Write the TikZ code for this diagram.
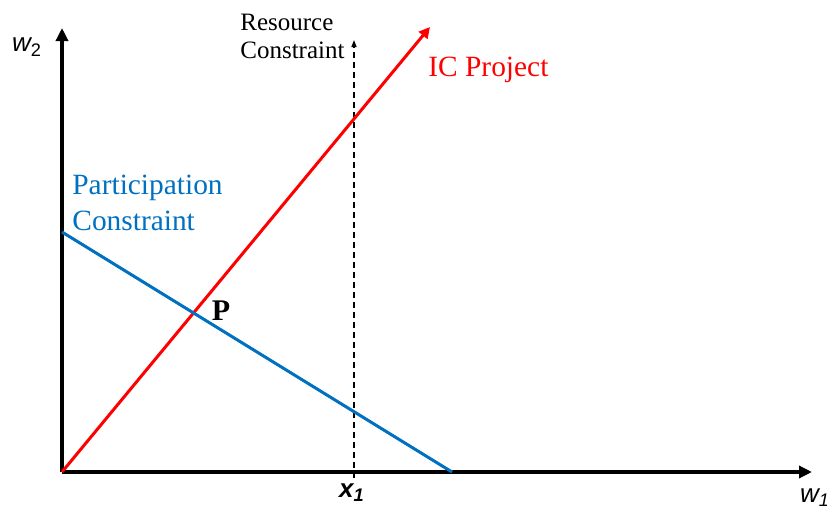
\documentclass[tikz,border=0pt]{standalone}
\usepackage{fontspec}
\setmainfont{Liberation Serif}
\setsansfont{Liberation Sans}
\usepackage{xcolor}
\usetikzlibrary{arrows.meta}

\definecolor{icred}{RGB}{255,0,0}
\definecolor{pcblue}{RGB}{0,112,192}

\begin{document}
\begin{tikzpicture}[x=0.5pt, y=-0.5pt]
	\tikzstyle{axis} = [draw, line width=2pt, -{Triangle[length=6.5pt,width=6pt]}]
	\tikzstyle{curve} = [draw, line width=1.5pt]
	\tikzstyle{label} = [inner sep=0, align=left, font=\fontsize{14.7}{18}\selectfont]
	\tikzstyle{axlabel} = [inner sep=0, font=\fontsize{13}{15}\sffamily\itshape]
	\useasboundingbox (0,0) rectangle (827,514);
	\coordinate (O) at (62,472);
	\coordinate (ytop) at (62,28);
	\coordinate (xend) at (812,472);
	\coordinate (ictop) at (430,27);
	\coordinate (pcstart) at (62,232);
	\coordinate (pcend) at (452,472);
	\coordinate (rcbase) at (354,478);
	\coordinate (rctop) at (354,40);
	% axes
	\draw[axis] (O) -- (ytop);
	\draw[axis] (O) -- (xend);
	% resource constraint
	\draw[line width=0.75pt, dash pattern=on 3pt off 2pt, -{Triangle[length=3.5pt,width=2.5pt]}] (rcbase) -- (rctop);
	% IC line and participation line
	\draw[curve, icred, -{Triangle[length=5.5pt,width=5.5pt]}] (O) -- (ictop);
	\draw[curve, pcblue] (pcstart) -- (pcend);
	% labels
	\node[axlabel] (w2) at (27,47) {w\textsubscript{\upshape 2}};
	\node[axlabel] (w1) at (815,498) {w\textsubscript{1}};
	\node[axlabel, font=\fontsize{13}{15}\sffamily\bfseries\itshape] (x1) at (352,493) {x\textsubscript{1}};
	\node[label, anchor=north west, font=\fontsize{12.5}{14}\selectfont] (rc) at (240,14) {Resource\\Constraint};
	\node[label, icred, anchor=west] (ic) at (428,70) {IC Project};
	\node[label, pcblue, anchor=north west] (pc) at (72,175) {Participation\\Constraint};
	\node[label, font=\fontsize{15}{18}\bfseries] (P) at (221,311) {P};
\end{tikzpicture}
\end{document}
